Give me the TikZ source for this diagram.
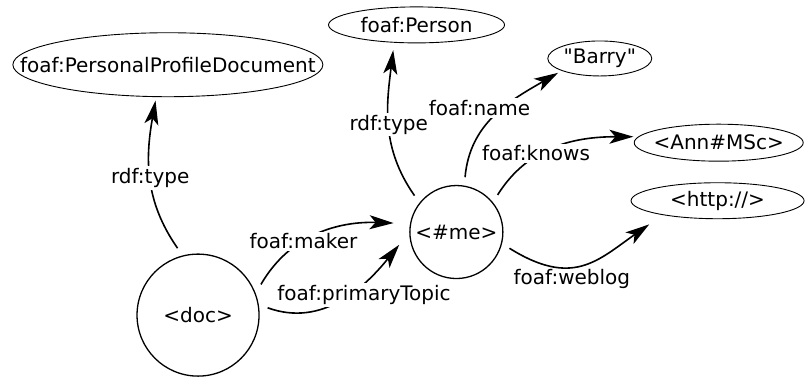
\documentclass[tikz,border=0pt]{standalone}
\usepackage{fontspec}
\setmainfont{DejaVu Sans}
\usetikzlibrary{arrows.meta,shapes.geometric}
\def\zw#1{\makebox[0pt]{#1}}

\begin{document}
\begin{tikzpicture}[
    res/.style={circle, draw, line width=0.65pt, inner sep=0pt, outer sep=4.5pt},
    oval/.style={ellipse, draw, line width=0.45pt, inner sep=0pt, outer sep=2pt},
    rel/.style={line width=0.8pt, -{Stealth[length=12pt,width=7pt,inset=3pt]}},
    lab/.style={fill=white, inner sep=1pt}
  ]
  \useasboundingbox (0,0) rectangle (402.5pt,188pt);

  %%%%% NODES %%%%%
  \node[res, minimum size=61pt] (doc) at (3.48, 1.07) {<doc>};
  \node[res, minimum size=46.5pt] (me) at (8.02, 2.53) {<\#me>};

  \node[oval, minimum width=155pt, minimum height=32pt] (ppd) at (2.95, 5.47) {\zw{foaf:PersonalProfileDocument}};
  \node[oval, minimum width=88pt, minimum height=18pt] (person) at (7.32, 6.17) {\zw{foaf:Person}};
  \node[oval, minimum width=52pt, minimum height=17.5pt] (barry) at (10.54, 5.58) {\zw{\textquotedbl Barry\textquotedbl}};
  \node[oval, minimum width=84.5pt, minimum height=18.5pt] (ann) at (12.63, 4.10) {\zw{<Ann\#MSc>}};
  \node[oval, minimum width=86.5pt, minimum height=18pt] (http) at (12.61, 3.08) {\zw{<http://>}};

  %%%%% EDGES %%%%%
  \draw[rel] (doc.107) to[out=125, in=-100] node[lab] {rdf:type} (ppd.251);
  \draw[rel, shorten >=4pt] (doc.26) to[out=60, in=178] node[lab, pos=0.38] {foaf:maker} (me.171);
  \draw[rel, shorten >=2pt] (doc.6) to[out=-20, in=-129] node[lab, pos=0.55, xshift=8pt] {foaf:primaryTopic} (me.190);

  \draw[rel, shorten >=2pt] (me.139) to[out=125, in=-97] node[lab] {rdf:type} (person.223);
  \draw[rel] (me.81) to[out=85, in=-150] node[lab, xshift=-8pt, yshift=3.5pt] {foaf:name} (barry.199);
  \draw[rel] (me.42) to[out=58, in=180] node[lab, pos=0.4, xshift=-3pt] {foaf:knows} (ann.176);
  \draw[rel, shorten >=6pt] (me.-17) to[out=-32, in=-145, looseness=1.25] node[below, pos=0.4, inner sep=1pt] {foaf:weblog} (http.196);
\end{tikzpicture}
\end{document}
